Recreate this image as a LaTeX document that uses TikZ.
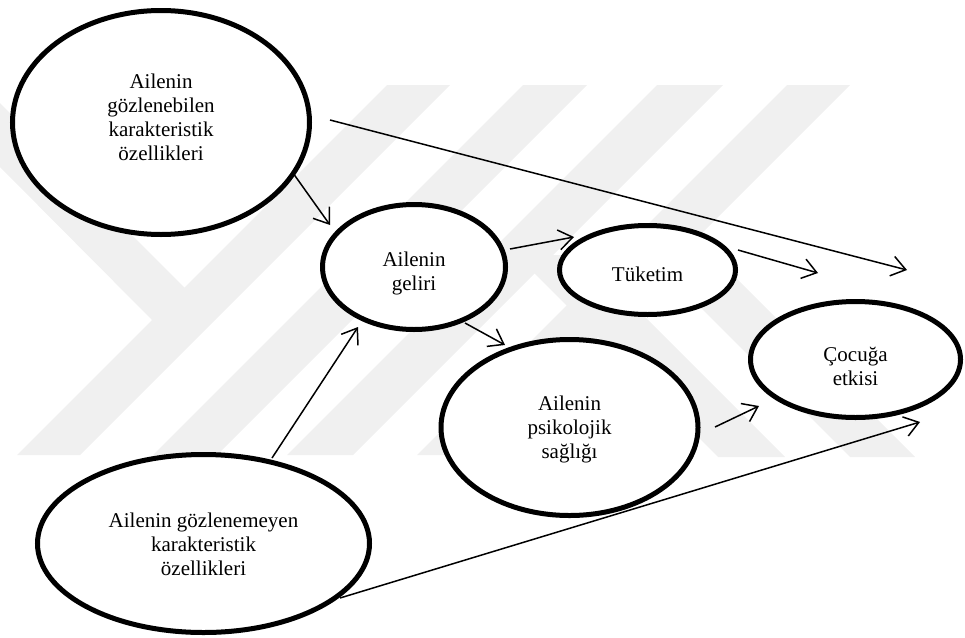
\documentclass[tikz,border=0pt]{standalone}
\usepackage{fontspec}
\setmainfont{Liberation Serif}
\usetikzlibrary{shapes.geometric,arrows.meta,calc}
\newcommand{\ovtext}[2]{\raisebox{#1}[\height][\depth]{\begin{tabular}{@{}c@{}}#2\end{tabular}}}
\begin{document}
\begin{tikzpicture}[x=1pt,y=-1pt,
  oval/.style={ellipse, draw, line width=5pt, fill=white, inner sep=0pt,
    font=\fontsize{21}{24}\selectfont},
  arr/.style={line width=1.5pt, -{Straight Barb[length=14pt,width=20pt,line width=1.5pt]}},
  wm/.style={fill=black!6, draw=none}]
\useasboundingbox (0,0) rectangle (965,637);
% faint watermark bands
\fill[wm] (17,455) -- (80,455) -- (450,85) -- (387,85) -- cycle;
\fill[wm] (153,455) -- (217,455) -- (587,85) -- (523,85) -- cycle;
\fill[wm] (287,455) -- (353,455) -- (723,85) -- (657,85) -- cycle;
\fill[wm] (417,455) -- (480,455) -- (850,85) -- (787,85) -- cycle;
\fill[wm] (0,103) -- (216,319) -- (152,320) -- (0,167) -- cycle;
\fill[wm] (516,255) -- (583,255) -- (785,457) -- (718,457) -- cycle;
\fill[wm] (633,240) -- (698,240) -- (915,457) -- (850,457) -- cycle;
% nodes
\node[oval, minimum width=297pt, minimum height=224pt] (E1) at (161,122.5)
  {\ovtext{2.5pt}{Ailenin\\gözlenebilen\\karakteristik\\özellikleri}};
\node[oval, minimum width=183pt, minimum height=125pt] (E2) at (414,267)
  {\ovtext{-6.5pt}{Ailenin\\geliri}};
\node[oval, minimum width=176pt, minimum height=89pt] (E3) at (647.5,270)
  {\ovtext{-7pt}{Tüketim}};
\node[oval, minimum width=210pt, minimum height=116pt] (E4) at (855.5,359.5)
  {\ovtext{-9pt}{Çocuğa\\etkisi}};
\node[oval, minimum width=257pt, minimum height=176pt] (E5) at (569.5,427.5)
  {\ovtext{-2.5pt}{Ailenin\\psikolojik\\sağlığı}};
\node[oval, minimum width=332pt, minimum height=178pt] (E6) at (203.5,543.5)
  {\ovtext{-3pt}{Ailenin gözlenemeyen\\karakteristik\\özellikleri}};
\coordinate (F1) at (907,270);
\coordinate (F2) at (818,273);
% connectors
\draw[arr] ($(E1.center)+(132,50.5)$) -- ($(E2.center)+(-84,-42)$);
\draw[arr] ($(E1.center)+(169,-2.5)$) -- (F1);
\draw[arr] ($(E2.center)+(96,-18)$) -- ($(E3.center)+(-73.5,-33)$);
\draw[arr] ($(E2.center)+(51,56)$) -- ($(E5.center)+(-64.5,-82.5)$);
\draw[arr] ($(E3.center)+(90.5,-20)$) -- (F2);
\draw[arr] ($(E5.center)+(145.5,-0.5)$) -- ($(E4.center)+(-96.5,46.5)$);
\draw[arr] ($(E6.center)+(136.5,54.5)$) -- ($(E4.center)+(64.5,62.5)$);
\draw[arr] ($(E6.center)+(68.5,-85.5)$) -- ($(E2.center)+(-56,60)$);
\end{tikzpicture}
\end{document}
